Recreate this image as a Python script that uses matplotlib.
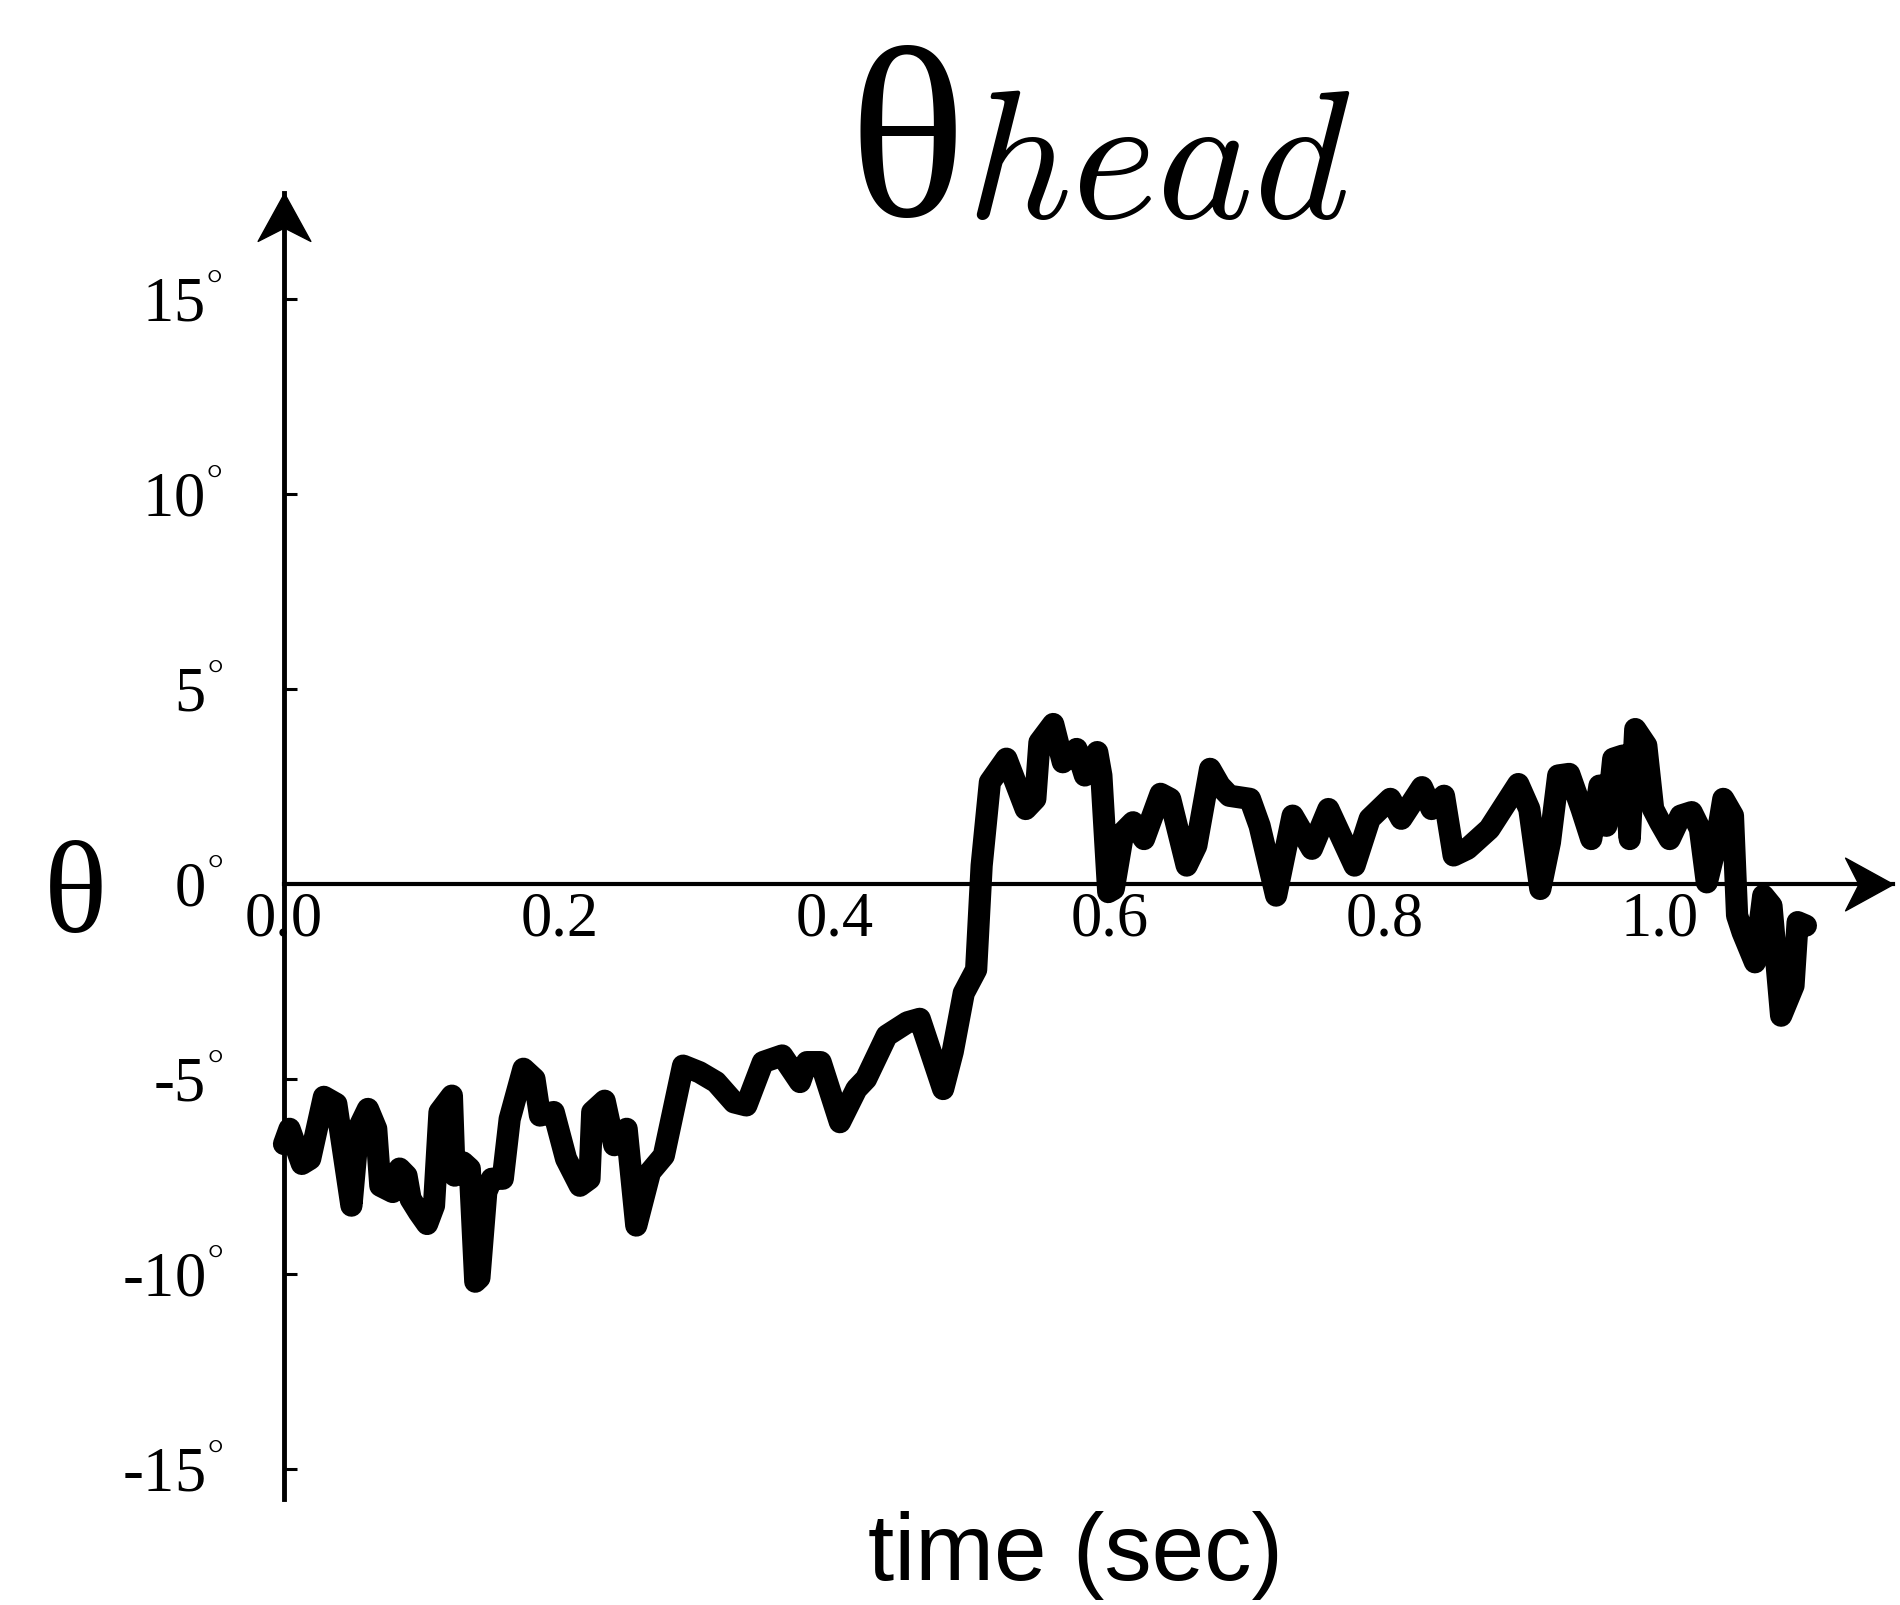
import matplotlib
matplotlib.use("Agg")
import matplotlib.pyplot as plt
from matplotlib.path import Path

# Head angle trace (seconds, degrees)
time_s = [0.000, 0.004, 0.013, 0.019, 0.029, 0.038, 0.049, 0.054, 0.061, 0.067,
          0.070, 0.079, 0.084, 0.089, 0.092, 0.098, 0.104, 0.109, 0.113, 0.122,
          0.124, 0.130, 0.135, 0.139, 0.142, 0.147, 0.151, 0.159, 0.164, 0.174,
          0.182, 0.186, 0.196, 0.205, 0.215, 0.222, 0.224, 0.233, 0.240, 0.249,
          0.256, 0.266, 0.276, 0.290, 0.302, 0.314, 0.327, 0.336, 0.348, 0.362,
          0.375, 0.380, 0.390, 0.404, 0.416, 0.423, 0.438, 0.453, 0.462, 0.479,
          0.486, 0.494, 0.503, 0.507, 0.513, 0.525, 0.539, 0.546, 0.549, 0.559,
          0.566, 0.576, 0.582, 0.591, 0.594, 0.599, 0.603, 0.610, 0.617, 0.625,
          0.637, 0.644, 0.656, 0.663, 0.673, 0.680, 0.687, 0.702, 0.709, 0.721,
          0.733, 0.747, 0.759, 0.778, 0.789, 0.804, 0.812, 0.827, 0.834, 0.843,
          0.850, 0.860, 0.876, 0.897, 0.905, 0.913, 0.920, 0.926, 0.934, 0.943,
          0.950, 0.956, 0.961, 0.966, 0.973, 0.978, 0.982, 0.990, 0.995, 1.000,
          1.007, 1.015, 1.023, 1.029, 1.034, 1.040, 1.046, 1.053, 1.056, 1.060,
          1.069, 1.075, 1.081, 1.088, 1.097, 1.100, 1.106]
theta_deg = [-6.67, -6.28, -7.18, -7.05, -5.46, -5.64, -8.25, -6.28, -5.77, -6.28,
             -7.74, -7.90, -7.30, -7.48, -8.08, -8.42, -8.72, -8.25, -5.85, -5.43,
             -7.48, -7.14, -7.30, -10.20, -10.10, -7.90, -7.56, -7.56, -6.03, -4.74,
             -5.00, -5.94, -5.85, -7.05, -7.74, -7.56, -5.85, -5.56, -6.70, -6.28,
             -8.76, -7.39, -6.97, -4.66, -4.83, -5.08, -5.60, -5.68, -4.57, -4.40,
             -5.08, -4.57, -4.57, -6.11, -5.26, -5.00, -3.89, -3.55, -3.46, -5.26,
             -4.30, -2.80, -2.20, 0.47, 2.61, 3.21, 1.92, 2.18, 3.63, 4.10,
             3.12, 3.46, 2.78, 3.38, 2.78, -0.21, -0.13, 1.33, 1.58, 1.15,
             2.31, 2.18, 0.47, 0.98, 2.95, 2.52, 2.26, 2.18, 1.49, -0.30,
             1.75, 0.90, 1.92, 0.47, 1.67, 2.18, 1.67, 2.48, 1.92, 2.26,
             0.73, 0.90, 1.41, 2.56, 1.92, -0.13, 1.07, 2.78, 2.82, 1.92,
             1.15, 2.52, 1.49, 3.21, 3.29, 1.15, 3.97, 3.55, 1.92, 1.58,
             1.15, 1.75, 1.84, 1.41, 0.04, 0.90, 2.18, 1.75, -0.81, -1.24,
             -2.01, -0.30, -0.56, -3.38, -2.61, -0.98, -1.07]

x_ticks = [0.0, 0.2, 0.4, 0.6, 0.8, 1.0]
x_tick_labels = ["0.0", "0.2", "0.4", "0.6", "0.8", "1.0"]
y_ticks = [-15, -10, -5, 0, 5, 10, 15]
y_tick_labels = ["-15$^{°}$", "-10$^{°}$", "-5$^{°}$", "0$^{°}$",
                 "5$^{°}$", "10$^{°}$", "15$^{°}$"]

# Axis extents (data units)
x_axis_end = 1.169
y_axis_top = 17.72
y_axis_bottom = -15.77

plt.rcParams["font.family"] = ["Liberation Serif", "DejaVu Serif"]
plt.rcParams["mathtext.fontset"] = "stix"

W, H = 1900, 1606
fig = plt.figure(figsize=(W / 100, H / 100), dpi=100)
ax = fig.add_axes([0, 0, 1, 1])
ax.set_xlim(-0.2064, 1.1744)
ax.set_ylim(-18.49, 22.69)
ax.patch.set_visible(False)

for side in ("top", "right"):
    ax.spines[side].set_visible(False)
ax.spines["left"].set_position(("data", 0))
ax.spines["left"].set_bounds(y_axis_bottom, y_axis_top)
ax.spines["left"].set_linewidth(3.5)
ax.spines["bottom"].set_position(("data", 0))
ax.spines["bottom"].set_bounds(0, x_axis_end)
ax.spines["bottom"].set_linewidth(3.0)

ax.set_xticks(x_ticks)
ax.set_xticklabels(x_tick_labels)
ax.tick_params(axis="x", length=0, pad=5, labelsize=45)

ax.set_yticks(y_ticks)
ax.set_yticklabels(y_tick_labels)
ax.tick_params(axis="y", direction="in", length=9.5, width=2.2, pad=44, labelsize=45)
for tick, val in zip(ax.yaxis.get_major_ticks(), y_ticks):
    if val == 0:
        tick.tick1line.set_visible(False)

# Arrowheads at the ends of both axes
up_head = Path([(0, 0), (0.55, -1.0), (0, -0.72), (-0.55, -1.0), (0, 0)],
               [Path.MOVETO, Path.LINETO, Path.LINETO, Path.LINETO, Path.CLOSEPOLY])
right_head = Path([(0, 0), (-1.0, 0.55), (-0.72, 0), (-1.0, -0.55), (0, 0)],
                  [Path.MOVETO, Path.LINETO, Path.LINETO, Path.LINETO, Path.CLOSEPOLY])
ax.plot([0], [y_axis_top], marker=up_head, markersize=69, color="black",
        linestyle="none", clip_on=False)
ax.plot([x_axis_end], [0], marker=right_head, markersize=69, color="black",
        linestyle="none", clip_on=False)

# The trace
ax.plot(time_s, theta_deg, color="black", linewidth=16,
        solid_joinstyle="round", solid_capstyle="round", zorder=3)

# Labels and title
fig.text(76 / W, 1 - 900 / H, "\u03b8", fontsize=95, ha="center", va="center",
         family=["Liberation Serif", "DejaVu Serif"])
fig.text(1075 / W, 1 - 1580 / H, "time (sec)", fontsize=68, ha="center", va="baseline",
         family=["Liberation Sans", "DejaVu Sans"])
fig.text(848 / W, 1 - 216 / H, "\u03b8", fontsize=176, ha="left", va="baseline",
         family=["Liberation Serif", "DejaVu Serif"])
fig.text(966 / W, 1 - 218 / H, r"$head$", fontsize=132, ha="left", va="baseline",
         math_fontfamily="cm")

fig.savefig("out.png", dpi=100, facecolor="white")
